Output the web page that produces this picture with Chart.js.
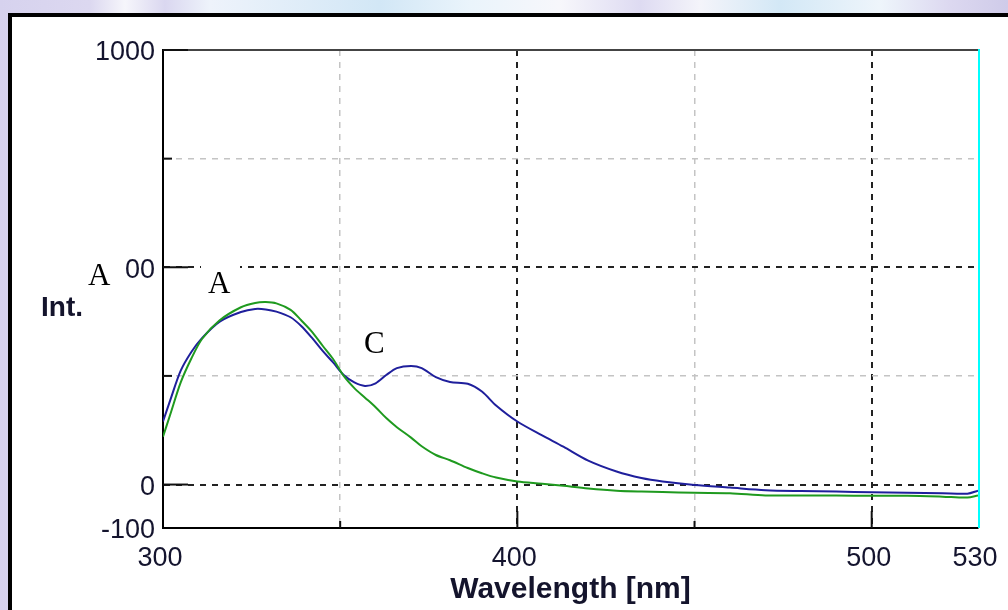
<!DOCTYPE html>
<html><head><meta charset="utf-8">
<script src="https://cdn.jsdelivr.net/npm/chart.js@4.4.1/dist/chart.umd.min.js"></script>
<style>
html,body{margin:0;padding:0;width:1008px;height:610px;overflow:hidden;}
body{background:linear-gradient(90deg,#d6d2ee 0px,#dcd8f0 90px,#f6f6fb 125px,#dad7f0 165px,#eef3fb 210px,#d2e7f6 380px,#eaf4fb 470px,#f7f7fb 560px,#dedbf2 640px,#f4f4fa 700px,#d3e8f6 780px,#eef5fb 880px,#dcd8f0 950px,#cfcbe9 1008px);}
#frame{position:absolute;left:8px;top:13px;width:1100px;height:700px;background:#fff;border-left:4px solid #000;border-top:4px solid #000;}
canvas{position:absolute;left:0;top:0;}
</style></head>
<body>
<div id="frame"></div>
<canvas id="c" width="1008" height="610"></canvas>
<script>
// ---- data ----
const wavelength = [300,302,305,308,311,316,322,326,329,332,336,339,342,345,348,351,354,357,360,363,366,370,373,377,381,386,390,394,400,407,413,420,428,435,441,450,460,470,480,490,500,510,520,527,530];
const seriesBlue = [145,193,262,305,337,375,397,404,403,398,385,365,338,308,281,252,235,227,233,252,268,273,268,247,236,232,214,182,145,113,87,55,30,15,7,-1,-7,-13,-15,-16,-18,-19,-20,-21,-14];
const seriesGreen = [110,160,235,290,335,378,408,418,420,417,402,378,352,320,289,250,222,200,178,153,132,108,88,68,56,38,26,16,7,2,-3,-9,-14,-16,-17,-19,-20,-25,-25,-25,-26,-26,-28,-30,-25];
const xGridValues = [300,350,400,450,500,530];
const xTickLabels = ['300','','400','','500','530'];
const yGridValues = [-100,0,250,500,750,1000];
const yTickLabels = ['-100','0','','500','','1000'];
const xMajor = [400,500], xMinor = [350,450];
const yMajor = [0,500,1000], yMinor = [250,750];

const toPts = (ys) => wavelength.map((w,i)=>({x:w,y:ys[i]}));
const FONT = "Arial, 'Liberation Sans', sans-serif";
const gridColor = (v, majors, minors) => majors.includes(v) ? '#222' : (minors.includes(v) ? '#c4c4c4' : 'rgba(0,0,0,0)');

const decor = {
  id:'decor',
  afterDraw(chart){
    const {ctx, chartArea:a, scales:{x,y}} = chart;
    ctx.save();
    // top frame line
    ctx.strokeStyle='#444'; ctx.lineWidth=2;
    ctx.beginPath(); ctx.moveTo(a.left,a.top); ctx.lineTo(a.right,a.top); ctx.stroke();
    // right cyan line
    ctx.strokeStyle='#00ffff'; ctx.lineWidth=2;
    ctx.beginPath(); ctx.moveTo(a.right+1,a.top-1); ctx.lineTo(a.right+1,a.bottom); ctx.stroke();
    // inside ticks
    ctx.strokeStyle='#111'; ctx.lineWidth=2;
    yMajor.forEach(v=>{const p=y.getPixelForValue(v); ctx.beginPath(); ctx.moveTo(a.left,p); ctx.lineTo(a.left+25,p); ctx.stroke();});
    yMinor.forEach(v=>{const p=y.getPixelForValue(v); ctx.beginPath(); ctx.moveTo(a.left,p); ctx.lineTo(a.left+9,p); ctx.stroke();});
    xMajor.forEach(v=>{const p=x.getPixelForValue(v); ctx.beginPath(); ctx.moveTo(p,a.bottom); ctx.lineTo(p,a.bottom-17); ctx.stroke();});
    xMinor.forEach(v=>{const p=x.getPixelForValue(v); ctx.beginPath(); ctx.moveTo(p,a.bottom); ctx.lineTo(p,a.bottom-7); ctx.stroke();});
    // "Int." label
    ctx.fillStyle='#14142c'; ctx.font="bold 28px "+FONT; ctx.textBaseline='alphabetic'; ctx.textAlign='left';
    ctx.fillText('Int.',41,316);
    // annotations with white boxes
    const notes=[{t:'A',bx:84,by:256,bw:41,bh:36,tx:88,ty:285},{t:'A',bx:201,by:262,bw:39,bh:38,tx:208,ty:293},{t:'C',bx:362,by:328,bw:28,bh:30,tx:364,ty:353}];
    notes.forEach(n=>{
      ctx.fillStyle='#fff'; ctx.fillRect(n.bx,n.by,n.bw,n.bh);
      ctx.fillStyle='#000'; ctx.font="31px 'Liberation Serif','Times New Roman',serif";
      ctx.fillText(n.t,n.tx,n.ty);
    });
    ctx.restore();
  }
};

new Chart(document.getElementById('c'),{
  type:'line',
  data:{datasets:[
    {label:'green',data:toPts(seriesGreen),borderColor:'#1f9a1f',borderWidth:2,pointRadius:0,tension:0.3,fill:false},
    {label:'blue',data:toPts(seriesBlue),borderColor:'#1f1f9c',borderWidth:2,pointRadius:0,tension:0.3,fill:false}
  ]},
  options:{
    responsive:false,animation:false,
    layout:{padding:{left:0,top:50,right:30,bottom:0}},
    plugins:{legend:{display:false},tooltip:{enabled:false}},
    scales:{
      x:{type:'linear',min:300,max:530,
        afterBuildTicks(s){s.ticks=xGridValues.map(v=>({value:v}));},
        afterFit(s){s.height=82;s.paddingLeft=0;s.paddingRight=0;},
        ticks:{autoSkip:false,maxRotation:0,padding:14,labelOffset:-3,color:'#14142e',font:{family:FONT,size:27},
          callback:(v)=>{const i=xGridValues.indexOf(v);return i>=0?xTickLabels[i]:'';}},
        grid:{drawTicks:false,color:(c)=>gridColor(c.tick&&c.tick.value,xMajor,xMinor),lineWidth:(c)=>xMajor.includes(c.tick&&c.tick.value)?2:1.5},
        border:{display:true,color:'#000',width:2,dash:[6,6]},
        title:{display:true,text:'Wavelength [nm]',color:'#14142c',font:{family:FONT,size:30,weight:'bold'},padding:{top:0,bottom:2}}
      },
      y:{type:'linear',min:-100,max:1000,
        afterBuildTicks(s){s.ticks=yGridValues.map(v=>({value:v}));},
        afterFit(s){s.width=163;s.paddingTop=0;s.paddingBottom=0;},
        ticks:{autoSkip:false,padding:8,labelOffset:3,color:'#14142e',font:{family:FONT,size:27},
          callback:(v)=>{const i=yGridValues.indexOf(v);return i>=0?yTickLabels[i]:'';}},
        grid:{drawTicks:false,color:(c)=>gridColor(c.tick&&c.tick.value,yMajor,yMinor),lineWidth:(c)=>yMajor.includes(c.tick&&c.tick.value)?2:1.5},
        border:{display:true,color:'#000',width:2,dash:[6,6]}
      }
    }
  },
  plugins:[decor]
});
</script>
</body></html>
